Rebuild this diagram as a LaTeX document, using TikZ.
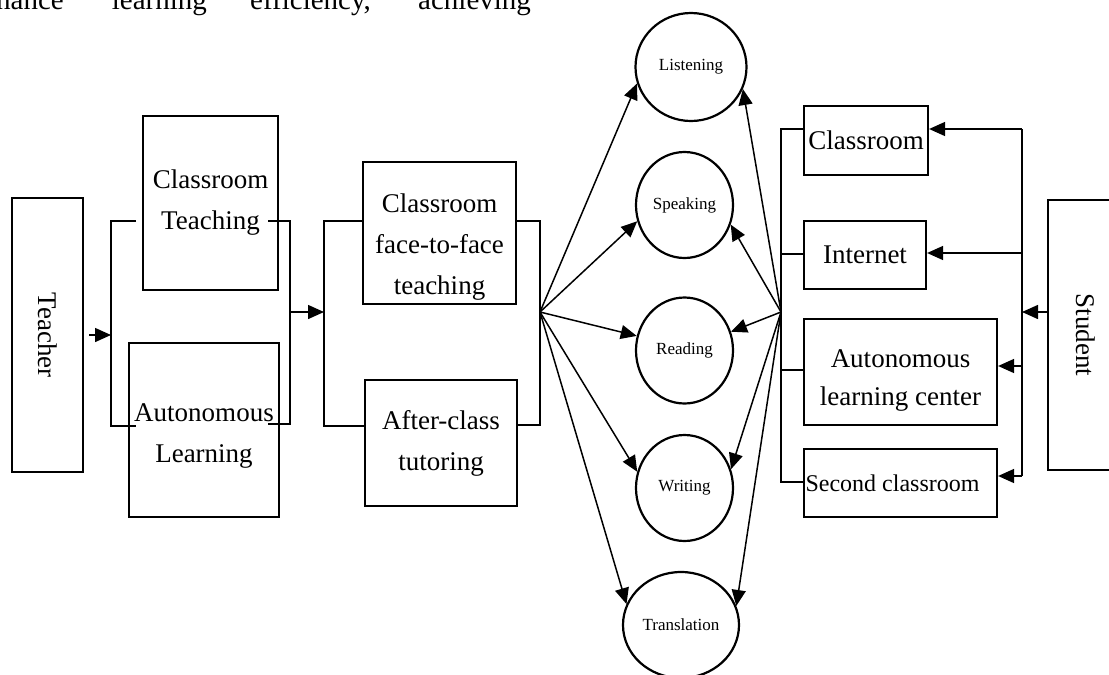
\documentclass[tikz,border=0pt]{standalone}
\usepackage{fontspec}
\setmainfont{Liberation Serif}
\usepackage{graphicx}
\usetikzlibrary{shapes.geometric,arrows.meta}
\newcommand\lowtext[2]{\raisebox{#1}[\height][\depth]{\begin{tabular}{@{}c@{}}#2\end{tabular}}}
\begin{document}
\begin{tikzpicture}[x=1pt,y=-1pt,
  box/.style={draw, line width=2.2pt, inner sep=0pt, align=center, font=\fontsize{27}{41}\selectfont},
  circ/.style={draw, ellipse, line width=2.2pt, inner sep=0pt, font=\fontsize{17}{20}\selectfont},
  conn/.style={line width=1.5pt},
  arr/.style={line width=1.5pt, -{Triangle[length=16pt,width=14pt]}},
  toptext/.style={font=\fontsize{29}{35}\selectfont, inner sep=0pt, anchor=base west}]
\useasboundingbox (0,0) rectangle (1109,675);
\clip (0,0) rectangle (1109,675);

% cropped running text at the top
\node[toptext, anchor=base east] (w1) at (64,9.5) {nhance};
\node[toptext] (w2) at (111.7,9.5) {learning};
\node[toptext] (w3) at (250,9.5) {efficiency,};
\node[toptext] (w4) at (418,9.5) {achieving};

% left part
\node[box, minimum width=71pt, minimum height=274pt] (teacher) at (47.5,335) {\rotatebox{-90}{Teacher}};
\node[box, minimum width=135pt, minimum height=174pt] (ct) at (210.5,203) {Classroom\\Teaching};
\node[box, minimum width=150pt, minimum height=174pt] (al) at (204,430) {\lowtext{-4pt}{Autonomous\\Learning}};
\node[box, minimum width=153pt, minimum height=142pt] (cf) at (439.5,233) {\lowtext{-12pt}{Classroom\\face-to-face\\teaching}};
\node[box, minimum width=152pt, minimum height=126pt] (ac) at (441,443) {After-class\\tutoring};

% skills
\node[circ, minimum width=111pt, minimum height=108pt] (lis) at (691,67) {Listening};
\node[circ, minimum width=97pt, minimum height=106pt] (spk) at (684.5,205) {Speaking};
\node[circ, minimum width=97pt, minimum height=106pt] (rea) at (684.5,350.5) {Reading};
\node[circ, minimum width=97pt, minimum height=106pt] (wri) at (684.5,488) {Writing};
\node[circ, minimum width=116pt, minimum height=106pt] (tra) at (681,625) {Translation};

% right part
\node[box, minimum width=124pt, minimum height=69pt] (cr) at (866,140.5) {Classroom};
\node[box, minimum width=122pt, minimum height=68pt] (int) at (865,255) {Internet};
\node[box, minimum width=193pt, minimum height=106pt, font=\fontsize{27}{38}\selectfont] (alc) at (900.5,372) {\lowtext{-7pt}{Autonomous\\learning center}};
\node[box, minimum width=193pt, minimum height=68pt, font=\fontsize{24}{30}\selectfont] (sc) at (900.5,483) {Second classroom\hspace*{16pt}};
\node[box, minimum width=76pt, minimum height=270pt] (stu) at (1086,335) {\rotatebox{-90}{Student}};

% coordinates
\coordinate (b1m) at (111,335);
\coordinate (b1t) at (111,221);
\coordinate (b1b) at (111,426);
\coordinate (ctin) at (136,221);
\coordinate (alin) at (136,426);
\coordinate (ctout) at (268,221);
\coordinate (alout) at (268,424);
\coordinate (b1rt) at (290,221);
\coordinate (b1rb) at (290,424);
\coordinate (b1rm) at (290,312);
\coordinate (b2m) at (324,312);
\coordinate (b2t) at (324,221);
\coordinate (b2b) at (324,426);
\coordinate (b2rt) at (540,221);
\coordinate (b2rb) at (540,425);
\coordinate (fanL) at (540,312);
\coordinate (fanR) at (781,312);
\coordinate (b3t) at (781,129);
\coordinate (b3i) at (781,254);
\coordinate (b3a) at (781,370);
\coordinate (b3b) at (781,482);
\coordinate (v4t) at (1022,129);
\coordinate (v4i) at (1022,253);
\coordinate (v4m) at (1022,312);
\coordinate (v4a) at (1022,366);
\coordinate (v4b) at (1022,476);

% connectors left
\draw[arr, shorten <=5pt] (teacher.east) -- (b1m);
\draw[conn] (ctin) -- (b1t) -- (b1b) -- (alin);
\draw[conn] (ctout) -- (b1rt) -- (b1rb) -- (alout);
\draw[arr] (b1rm) -- (b2m);
\draw[conn] (cf.west |- b2t) -- (b2t) -- (b2b) -- (ac.west |- b2b);
\draw[conn] (cf.east |- b2rt) -- (b2rt) -- (b2rb) -- (ac.east |- b2rb);

% fans
\draw[arr] (fanL) -- (lis.197);
\draw[arr] (fanL) -- (spk.199);
\draw[arr] (fanL) -- (rea.163);
\draw[arr] (fanL) -- (wri.161);
\draw[arr] (fanL) -- (tra.159);
\draw[arr] (fanR) -- (lis.337);
\draw[arr] (fanR) -- (spk.337);
\draw[arr] (fanR) -- (rea.22);
\draw[arr] (fanR) -- (wri.22);
\draw[arr] (fanR) -- (tra.19);

% right bracket
\draw[conn] (cr.west |- b3t) -- (b3t) -- (b3b) -- (sc.west |- b3b);
\draw[conn] (b3i) -- (int.west |- b3i);
\draw[conn] (b3a) -- (alc.west |- b3a);

% student side
\draw[conn] (v4t) -- (v4b);
\draw[arr] (v4t) -- (cr.east |- v4t);
\draw[arr] (v4i) -- (int.east |- v4i);
\draw[arr] (v4a) -- (alc.east |- v4a);
\draw[arr] (v4b) -- (sc.east |- v4b);
\draw[arr] (stu.west |- v4m) -- (v4m);
\end{tikzpicture}
\end{document}
